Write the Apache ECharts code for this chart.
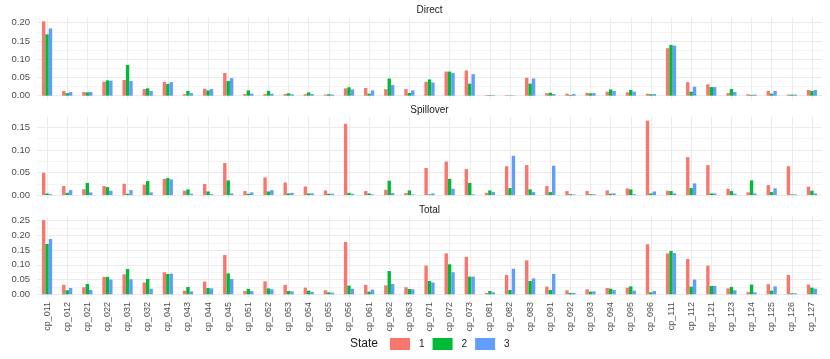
<!DOCTYPE html>
<html><head><meta charset="utf-8">
<script src="https://cdn.jsdelivr.net/npm/echarts@6/dist/echarts.min.js"></script>
<style>html,body{margin:0;padding:0;background:#fff}#c{width:830px;height:359px}</style>
</head><body><div id="c"></div>
<script>
const categories = ['cp_011','cp_012','cp_021','cp_022','cp_031','cp_032','cp_041','cp_043','cp_044','cp_045','cp_051','cp_052','cp_053','cp_054','cp_055','cp_056','cp_061','cp_062','cp_063','cp_071','cp_072','cp_073','cp_081','cp_082','cp_083','cp_091','cp_092','cp_093','cp_094','cp_095','cp_096','cp_111','cp_112','cp_121','cp_123','cp_124','cp_125','cp_126','cp_127'];
const stateNames = ['1','2','3'];
const panelNames = ['Direct','Spillover','Total'];

const direct1 = [0.2036,0.0127,0.010,0.038,0.043,0.018,0.038,0.004,0.019,0.062,0.0045,0.0045,0.0045,0.004,0.003,0.020,0.021,0.018,0.018,0.038,0.066,0.069,0.0015,0.0015,0.049,0.007,0.0055,0.008,0.011,0.009,0.0055,0.130,0.037,0.031,0.007,0.004,0.013,0.003,0.0155];
const direct2 = [0.168,0.007,0.009,0.042,0.084,0.020,0.032,0.013,0.0145,0.040,0.0145,0.013,0.0065,0.009,0.004,0.023,0.0055,0.047,0.0075,0.0445,0.066,0.033,0.0015,0.001,0.033,0.008,0.002,0.0065,0.017,0.0155,0.004,0.139,0.011,0.0235,0.018,0.002,0.0055,0.003,0.013];
const direct3 = [0.184,0.010,0.010,0.041,0.040,0.013,0.037,0.007,0.018,0.048,0.0055,0.0055,0.004,0.0045,0.003,0.017,0.0145,0.029,0.0145,0.036,0.062,0.059,0.0015,0.001,0.047,0.0045,0.0045,0.007,0.013,0.011,0.0045,0.137,0.0245,0.0235,0.010,0.003,0.013,0.003,0.0155];

const spill1 = [0.0495,0.020,0.013,0.020,0.025,0.023,0.036,0.0096,0.0244,0.071,0.0089,0.039,0.028,0.019,0.0103,0.158,0.0089,0.0118,0.0044,0.060,0.074,0.0576,0.005,0.064,0.0665,0.020,0.0089,0.0089,0.0103,0.0148,0.165,0.0096,0.084,0.0665,0.014,0.006,0.022,0.064,0.0185];
const spill2 = [0.0037,0.005,0.027,0.0177,0.003,0.031,0.0377,0.0126,0.008,0.0325,0.003,0.008,0.0037,0.0037,0.003,0.005,0.0037,0.0318,0.0103,0.0015,0.036,0.027,0.0103,0.0155,0.0126,0.0066,0.002,0.002,0.003,0.0126,0.0037,0.0089,0.0155,0.0037,0.0089,0.0325,0.0066,0.0015,0.0096];
const spill3 = [0.002,0.011,0.006,0.0096,0.011,0.006,0.0347,0.003,0.002,0.0037,0.006,0.011,0.005,0.0037,0.003,0.003,0.0015,0.0044,0.0015,0.0037,0.014,0.0015,0.0066,0.087,0.0066,0.065,0.0015,0.002,0.0037,0.002,0.008,0.0037,0.026,0.0037,0.003,0.0037,0.0148,0.0015,0.0037];

const total1 = [0.252,0.032,0.024,0.059,0.068,0.040,0.075,0.0124,0.043,0.1335,0.011,0.044,0.032,0.0226,0.0136,0.1776,0.032,0.0305,0.024,0.097,0.139,0.127,0.0045,0.0656,0.1154,0.026,0.0136,0.017,0.0215,0.0226,0.170,0.139,0.120,0.097,0.020,0.008,0.034,0.0656,0.033];
const total2 = [0.171,0.0136,0.035,0.059,0.086,0.052,0.069,0.025,0.0215,0.071,0.018,0.020,0.011,0.0124,0.0068,0.0294,0.009,0.079,0.018,0.045,0.102,0.060,0.011,0.0147,0.045,0.0147,0.0045,0.009,0.019,0.027,0.0068,0.147,0.026,0.0283,0.025,0.033,0.0124,0.0034,0.0226];
const total3 = [0.188,0.0215,0.0147,0.050,0.051,0.019,0.070,0.010,0.020,0.052,0.011,0.017,0.010,0.008,0.0057,0.019,0.0158,0.035,0.017,0.040,0.075,0.060,0.0068,0.087,0.054,0.069,0.0045,0.010,0.0147,0.0124,0.011,0.140,0.050,0.0283,0.0136,0.0068,0.027,0.0034,0.019];

const directTicks = [0,0.05,0.10,0.15,0.20];
const spillTicks = [0,0.05,0.10,0.15];
const totalTicks = [0,0.05,0.10,0.15,0.20,0.25];

const colors = ['#F8766D','#00BA38','#619CFF'];
const panels = [
  {data:[direct1,direct2,direct3], ticks:directTicks, top:17.6, height:81.8, titleY:10},
  {data:[spill1,spill2,spill3], ticks:spillTicks, top:116.9, height:81.9, titleY:110},
  {data:[total1,total2,total3], ticks:totalTicks, top:216.4, height:81.6, titleY:210}
];
const FONT = '"Liberation Sans", Arial, Helvetica, sans-serif';

const grids = [], xAxes = [], yAxes = [], series = [], graphics = [];
panels.forEach((p, i) => {
  const mx = Math.max(...p.data[0], ...p.data[1], ...p.data[2]);
  const step = p.ticks[1] - p.ticks[0];
  const lines = [];
  for (let k = 0; k <= p.ticks.length * 2; k++) {
    const v = +(k * step / 2).toFixed(4);
    if (v <= mx * 1.05) lines.push(v);
  }
  grids.push({left: 37, right: 8, top: p.top, height: p.height, containLabel: false});
  xAxes.push({
    type: 'category', gridIndex: i, data: categories, boundaryGap: true,
    axisLine: {show: false}, axisTick: {show: false},
    axisLabel: {show: i === 2, rotate: 90, fontSize: 9, color: '#4D4D4D', margin: 4, fontFamily: FONT, interval: 0},
    splitLine: {show: true, alignWithLabel: true, lineStyle: {color: '#EBEBEB', width: 1}}
  });
  yAxes.push({
    type: 'value', gridIndex: i, min: -mx * 0.05, max: mx * 1.05,
    axisLine: {show: false},
    axisTick: {show: false, customValues: lines},
    axisLabel: {customValues: p.ticks, fontSize: 9.5, color: '#4D4D4D', margin: 7, fontFamily: FONT,
      formatter: v => v.toFixed(2)},
    splitLine: {show: true, lineStyle: {color: ['#EBEBEB', '#F4F4F4'], width: 1}}
  });
  p.data.forEach((d, s) => {
    series.push({
      type: 'bar', name: stateNames[s], xAxisIndex: i, yAxisIndex: i, data: d,
      barWidth: 3.4, barGap: '0%', itemStyle: {color: colors[s]}
    });
  });
  graphics.push({type: 'text', x: 429.5, y: p.titleY,
    style: {text: panelNames[i], align: 'center', verticalAlign: 'middle', fontSize: 10, fill: '#1A1A1A', fontFamily: FONT}});
});
graphics.push({type: 'text', x: 350, y: 344,
  style: {text: 'State', align: 'left', verticalAlign: 'middle', fontSize: 12, fill: '#1A1A1A', fontFamily: FONT}});

const chart = echarts.init(document.getElementById('c'), null, {renderer: 'canvas'});
chart.setOption({
  animation: false,
  backgroundColor: '#ffffff',
  grid: grids, xAxis: xAxes, yAxis: yAxes, series: series,
  legend: {
    data: stateNames, left: 390, top: 338, padding: 0, itemWidth: 20, itemHeight: 12, itemGap: 8,
    icon: 'rect', selectedMode: false,
    textStyle: {fontSize: 10, color: '#1A1A1A', fontFamily: FONT, padding: [0, 0, 0, 4]}
  },
  graphic: graphics
});
</script></body></html>
